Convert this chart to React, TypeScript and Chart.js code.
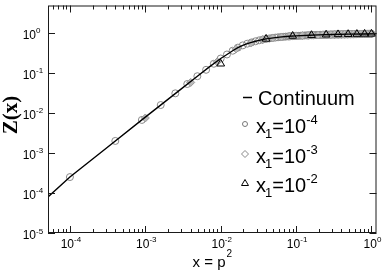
import React, { useEffect, useRef } from "react";
import { Chart, registerables } from "chart.js";

Chart.register(...registerables);

const X_MIN = 5.12e-5;
const X_MAX = 1.165;
const Y_MIN = 1e-5;
const Y_MAX = 4.86;

const xMajorTicks = [1e-4, 1e-3, 1e-2, 1e-1, 1];
const xTickExponents = ["-4", "-3", "-2", "-1", "0"];
const yMajorTicks = [1e-5, 1e-4, 1e-3, 1e-2, 1e-1, 1];
const yTickExponents = ["-5", "-4", "-3", "-2", "-1", "0"];

const continuumX = [5.12e-5, 1e-4, 3e-4, 1e-3, 3e-3, 5e-3, 7e-3, 0.01, 0.0121, 0.0144, 0.0169, 0.0196, 0.0225, 0.0256, 0.0289, 0.0324, 0.0361, 0.04, 0.05, 0.06, 0.08, 0.1, 0.15, 0.2, 0.3, 0.5, 0.8, 1.165];
const continuumY = [8e-5, 2.5e-4, 1.3e-3, 7.9e-3, 0.04, 0.085, 0.14, 0.23, 0.29, 0.36, 0.43, 0.49, 0.54, 0.58, 0.62, 0.655, 0.685, 0.71, 0.755, 0.785, 0.825, 0.845, 0.875, 0.895, 0.915, 0.935, 0.945, 0.952];

const circleX = [0.0001, 0.0004, 0.0009, 0.0016, 0.0025, 0.0036, 0.0049, 0.0064, 0.0081, 0.01,
  0.0121, 0.0144, 0.0169, 0.0196, 0.0225, 0.0256, 0.0289, 0.0324, 0.0361, 0.04,
  0.0441, 0.0484, 0.0529, 0.0576, 0.0625, 0.0676, 0.0729, 0.0784, 0.0841, 0.09,
  0.0961, 0.1024, 0.1089, 0.1156, 0.1225, 0.1296, 0.1369, 0.1444, 0.1521, 0.16,
  0.1681, 0.1764, 0.1849, 0.1936, 0.2025, 0.2116, 0.2209, 0.2304, 0.2401, 0.25,
  0.2601, 0.2704, 0.2809, 0.2916, 0.3025, 0.3136, 0.3249, 0.3364, 0.3481, 0.36,
  0.3721, 0.3844, 0.3969, 0.4096, 0.4225, 0.4356, 0.4489, 0.4624, 0.4761, 0.49,
  0.5041, 0.5184, 0.5329, 0.5476, 0.5625, 0.5776, 0.5929, 0.6084, 0.6241, 0.64,
  0.6561, 0.6724, 0.6889, 0.7056, 0.7225, 0.7396, 0.7569, 0.7744, 0.7921, 0.81,
  0.8281, 0.8464, 0.8649, 0.8836, 0.9025, 0.9216, 0.9409, 0.9604, 0.9801, 1.0];
const circleY = [0.00025, 0.002, 0.0067, 0.0158, 0.031, 0.053, 0.083, 0.12, 0.17, 0.23,
  0.29, 0.36, 0.43, 0.49, 0.54, 0.58, 0.62, 0.655, 0.685, 0.71,
  0.73, 0.75, 0.765, 0.78, 0.79, 0.8, 0.81, 0.82, 0.83, 0.835,
  0.84, 0.845, 0.85, 0.855, 0.86, 0.865, 0.87, 0.873, 0.876, 0.88,
  0.883, 0.886, 0.889, 0.892, 0.895, 0.897, 0.899, 0.901, 0.903, 0.905,
  0.907, 0.909, 0.911, 0.913, 0.915, 0.916, 0.917, 0.918, 0.919, 0.92,
  0.921, 0.922, 0.923, 0.924, 0.925, 0.926, 0.927, 0.928, 0.929, 0.93,
  0.931, 0.932, 0.933, 0.934, 0.935, 0.936, 0.937, 0.938, 0.939, 0.94,
  0.941, 0.942, 0.943, 0.943, 0.944, 0.944, 0.945, 0.945, 0.946, 0.946,
  0.947, 0.947, 0.948, 0.948, 0.949, 0.949, 0.95, 0.95, 0.95, 0.95];

const diamondX = [0.001, 0.004, 0.009, 0.016, 0.025, 0.036, 0.049, 0.064, 0.081, 0.1,
  0.121, 0.144, 0.169, 0.196, 0.225, 0.256, 0.289, 0.324, 0.361, 0.4,
  0.441, 0.484, 0.529, 0.576, 0.625, 0.676, 0.729, 0.784, 0.841, 0.9, 0.961];
const diamondY = [0.0075, 0.058, 0.19, 0.4, 0.56, 0.68, 0.75, 0.795, 0.825, 0.845,
  0.86, 0.87, 0.88, 0.89, 0.897, 0.903, 0.908, 0.913, 0.918, 0.922,
  0.925, 0.928, 0.931, 0.934, 0.937, 0.939, 0.941, 0.943, 0.945, 0.947, 0.949];

const triangleX = [0.01, 0.04, 0.09, 0.16, 0.25, 0.36, 0.49, 0.64, 0.81, 1.0];
const triangleY = [0.17, 0.71, 0.84, 0.88, 0.905, 0.92, 0.93, 0.938, 0.945, 0.95];

const legendLabels = ["Continuum", "-4", "-3", "-2"];

const SANS = "'Liberation Sans', Arial, sans-serif";
const SERIF = "'Liberation Serif', 'Times New Roman', serif";

const zip = (xs: number[], ys: number[]) => xs.map((x, i) => ({ x, y: ys[i] }));

const framePlugin = {
  id: "frame",
  afterDraw(chart: any) {
    const { ctx, chartArea: a, scales } = chart;
    const xs = scales.x;
    const ys = scales.y;
    ctx.save();
    ctx.strokeStyle = "#1a1a1a";
    ctx.lineWidth = 1;
    ctx.strokeRect(a.left + 0.5, a.top + 0.5, a.right - a.left - 1, a.bottom - a.top - 1);

    // x ticks (major + minor), bottom and top
    ctx.beginPath();
    for (let d = -5; d <= 0; d++) {
      for (let m = 1; m <= 9; m++) {
        const v = m * Math.pow(10, d);
        if (v < X_MIN || v > X_MAX) continue;
        const px = Math.round(xs.getPixelForValue(v)) + 0.5;
        const len = m === 1 ? 7 : 4;
        ctx.moveTo(px, a.bottom);
        ctx.lineTo(px, a.bottom - len);
        ctx.moveTo(px, a.top);
        ctx.lineTo(px, a.top + len);
      }
    }
    yMajorTicks.forEach((v) => {
      const py = Math.round(ys.getPixelForValue(v)) + 0.5;
      ctx.moveTo(a.left, py);
      ctx.lineTo(a.left + 7, py);
      ctx.moveTo(a.right, py);
      ctx.lineTo(a.right - 7, py);
    });
    ctx.stroke();

    ctx.fillStyle = "#000";
    ctx.textBaseline = "alphabetic";
    // x tick labels
    xMajorTicks.forEach((v, i) => {
      const px = xs.getPixelForValue(v);
      ctx.font = `12px ${SANS}`;
      const w10 = ctx.measureText("10").width;
      ctx.font = `8px ${SANS}`;
      const we = ctx.measureText(xTickExponents[i]).width;
      const start = px - (w10 + we) / 2 + 1;
      ctx.font = `12px ${SANS}`;
      ctx.textAlign = "left";
      ctx.fillText("10", start, 248);
      ctx.font = `8px ${SANS}`;
      ctx.fillText(xTickExponents[i], start + w10, 242);
    });
    // y tick labels
    yMajorTicks.forEach((v, i) => {
      const py = ys.getPixelForValue(v);
      ctx.font = `12px ${SANS}`;
      ctx.textAlign = "right";
      ctx.fillText("10", 36, py + 6);
      ctx.font = `8px ${SANS}`;
      ctx.textAlign = "left";
      ctx.fillText(yTickExponents[i], 36, py + 0.5);
    });

    // x axis title
    ctx.font = `15px ${SANS}`;
    ctx.textAlign = "left";
    const tw = ctx.measureText("x = p").width;
    const tx = 211 - tw / 2 - 2;
    ctx.fillText("x = p", tx, 267);
    ctx.font = `10px ${SANS}`;
    ctx.fillText("2", tx + tw + 1, 257);

    // y axis title
    ctx.save();
    ctx.translate(17, 115);
    ctx.rotate(-Math.PI / 2);
    ctx.font = `bold 21px ${SERIF}`;
    ctx.textAlign = "center";
    ctx.fillText("Z(x)", 0, 0);
    ctx.restore();

    // legend
    ctx.strokeStyle = "#000";
    ctx.lineWidth = 1.5;
    ctx.beginPath();
    ctx.moveTo(243, 97.5);
    ctx.lineTo(252, 97.5);
    ctx.stroke();
    ctx.font = `20px ${SANS}`;
    ctx.textAlign = "left";
    ctx.fillText(legendLabels[0], 258, 105);

    const rows = [133, 163, 192];
    rows.forEach((base, i) => {
      const mx = 245;
      const my = base - 9;
      ctx.lineWidth = 1;
      ctx.beginPath();
      if (i === 0) {
        ctx.strokeStyle = "#777";
        ctx.arc(mx, my, 2.5, 0, Math.PI * 2);
        ctx.stroke();
      } else if (i === 1) {
        ctx.strokeStyle = "#888";
        ctx.fillStyle = "#fff";
        ctx.moveTo(mx, my - 3.5);
        ctx.lineTo(mx + 3.5, my);
        ctx.lineTo(mx, my + 3.5);
        ctx.lineTo(mx - 3.5, my);
        ctx.closePath();
        ctx.fill();
        ctx.stroke();
      } else {
        ctx.strokeStyle = "#000";
        ctx.moveTo(mx, my - 3.5);
        ctx.lineTo(mx + 3.5, my + 2.5);
        ctx.lineTo(mx - 3.5, my + 2.5);
        ctx.closePath();
        ctx.stroke();
      }
      ctx.fillStyle = "#000";
      let cx = 256;
      ctx.font = `20px ${SANS}`;
      ctx.fillText("x", cx, base);
      cx += ctx.measureText("x").width - 1;
      ctx.font = `13px ${SANS}`;
      ctx.fillText("1", cx, base + 5);
      cx += ctx.measureText("1").width;
      ctx.font = `20px ${SANS}`;
      ctx.fillText("=10", cx, base);
      cx += ctx.measureText("=10").width;
      ctx.font = `13px ${SANS}`;
      ctx.fillText(legendLabels[i + 1], cx, base - 9);
    });
    ctx.restore();
  },
};

export default function App() {
  const ref = useRef<HTMLCanvasElement>(null);
  useEffect(() => {
    document.body.style.margin = "0";
    const chart = new Chart(ref.current as HTMLCanvasElement, {
      type: "scatter",
      data: {
        datasets: [
          {
            label: "Continuum",
            data: zip(continuumX, continuumY),
            showLine: true,
            borderColor: "#000",
            borderWidth: 1.4,
            pointRadius: 0,
            tension: 0,
          },
          {
            label: "x1=1e-2",
            data: zip(triangleX, triangleY),
            pointStyle: "triangle",
            pointRadius: 4.5,
            borderColor: "#000",
            backgroundColor: "rgba(0,0,0,0)",
            borderWidth: 1,
          },
          {
            label: "x1=1e-3",
            data: zip(diamondX, diamondY),
            pointStyle: "rectRot",
            pointRadius: 4,
            borderColor: "#999",
            backgroundColor: "#bbb",
            borderWidth: 1,
          },
          {
            label: "x1=1e-4",
            data: zip(circleX, circleY),
            pointStyle: "circle",
            pointRadius: 3.5,
            borderColor: "#888",
            backgroundColor: "rgba(0,0,0,0)",
            borderWidth: 1,
          },
        ],
      },
      options: {
        responsive: false,
        animation: false,
        events: [],
        layout: { padding: { left: 48, top: 1, right: 5, bottom: 40 } },
        plugins: { legend: { display: false }, tooltip: { enabled: false } },
        scales: {
          x: { type: "logarithmic", min: X_MIN, max: X_MAX, display: false },
          y: { type: "logarithmic", min: Y_MIN, max: Y_MAX, display: false },
        },
      },
      plugins: [framePlugin],
    });
    return () => chart.destroy();
  }, []);
  return (
    <div style={{ position: "absolute", left: 0, top: 0 }}>
      <canvas ref={ref} width={382} height={273} style={{ display: "block", width: 382, height: 273 }} />
    </div>
  );
}
